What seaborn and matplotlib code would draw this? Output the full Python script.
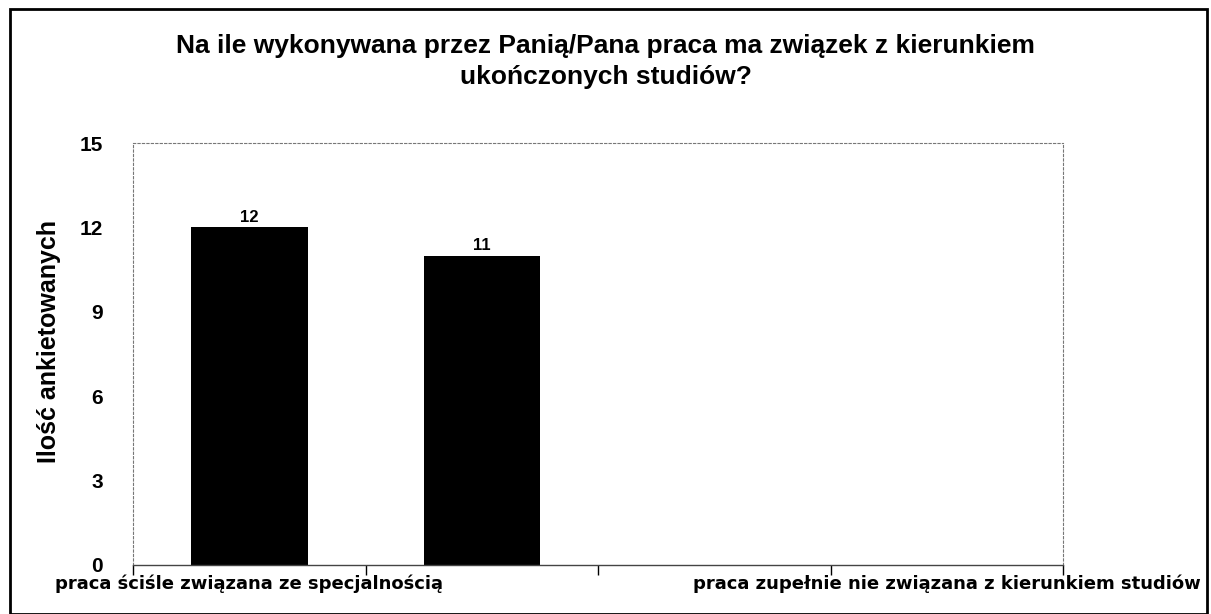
import matplotlib
matplotlib.use('Agg')
import matplotlib.pyplot as plt
import matplotlib.patches as mpatches
import seaborn as sns
import pandas as pd

# dane
kategorie = ['praca ściśle związana ze specjalnością',
             'praca związana z kierunkiem studiów',
             'praca częściowo związana z kierunkiem studiów',
             'praca zupełnie nie związana z kierunkiem studiów']
wartosci = [12, 11, 0, 0]
# Excel pokazuje tylko co drugą etykietę osi X
etykiety_x = ['praca ściśle związana ze specjalnością', '', '',
              'praca zupełnie nie związana z kierunkiem studiów']
y_ticki = [0, 3, 6, 9, 12, 15]

tytul = 'Na ile wykonywana przez Panią/Pana praca ma związek z kierunkiem\nukończonych studiów?'

sns.set_style('white')
plt.rcParams['font.family'] = ['Liberation Sans', 'DejaVu Sans']
plt.rcParams['text.color'] = 'black'
plt.rcParams['axes.labelcolor'] = 'black'
plt.rcParams['xtick.color'] = 'black'
plt.rcParams['ytick.color'] = 'black'

df = pd.DataFrame({'kategoria': kategorie, 'ilosc': wartosci})

fig = plt.figure(figsize=(12.11, 6.14), dpi=100)
ax = fig.add_axes([0.110, 0.080, 0.768, 0.687])

sns.barplot(data=df, x='kategoria', y='ilosc', ax=ax, color='black',
            width=0.5, saturation=1, linewidth=0)

# etykiety wartości nad słupkami (pomijamy zera)
for patch, v in zip(ax.patches, wartosci):
    if v > 0:
        ax.text(patch.get_x() + patch.get_width() / 2, v + 0.08, str(v),
                ha='center', va='bottom', fontsize=12, fontweight='bold')

ax.set_ylim(0, 15)
ax.set_yticks(y_ticki)
ax.set_yticklabels([str(t) for t in y_ticki], fontsize=15, fontweight='bold')
ax.set_xlim(-0.5, len(kategorie) - 0.5)
ax.set_xticks([i - 0.5 for i in range(len(kategorie) + 1)], minor=True)
ax.set_xticks(range(len(kategorie)))
ax.set_xticklabels(etykiety_x, fontsize=13, fontweight='bold', family='DejaVu Sans Condensed')
ax.tick_params(axis='x', which='major', length=0, pad=7, bottom=True)
ax.tick_params(axis='x', which='minor', length=7, width=1, color='black',
               direction='out', bottom=True)
ax.tick_params(axis='y', length=0, pad=22)

ax.set_xlabel('')
ax.set_ylabel('Ilość ankietowanych', fontsize=18, fontweight='bold')
ax.yaxis.set_label_coords(-0.078, 0.53)

# ramka obszaru wykresu jak w Excelu
for s in ['top', 'right', 'left']:
    ax.spines[s].set_visible(True)
    ax.spines[s].set_linestyle((0, (2, 2)))
    ax.spines[s].set_color('#777777')
    ax.spines[s].set_linewidth(0.8)
ax.spines['bottom'].set_color('#444444')
ax.spines['bottom'].set_linewidth(1.0)

fig.text(0.5, 0.945, tytul, ha='center', va='top', fontsize=19, fontweight='bold',
         linespacing=1.4)

# zewnętrzna ramka całego wykresu
fig.patches.append(mpatches.Rectangle((0.008, 0.0), 0.989, 0.985, transform=fig.transFigure,
                                      fill=False, edgecolor='black', linewidth=2))

fig.savefig('out.png', dpi=100, facecolor='white')
